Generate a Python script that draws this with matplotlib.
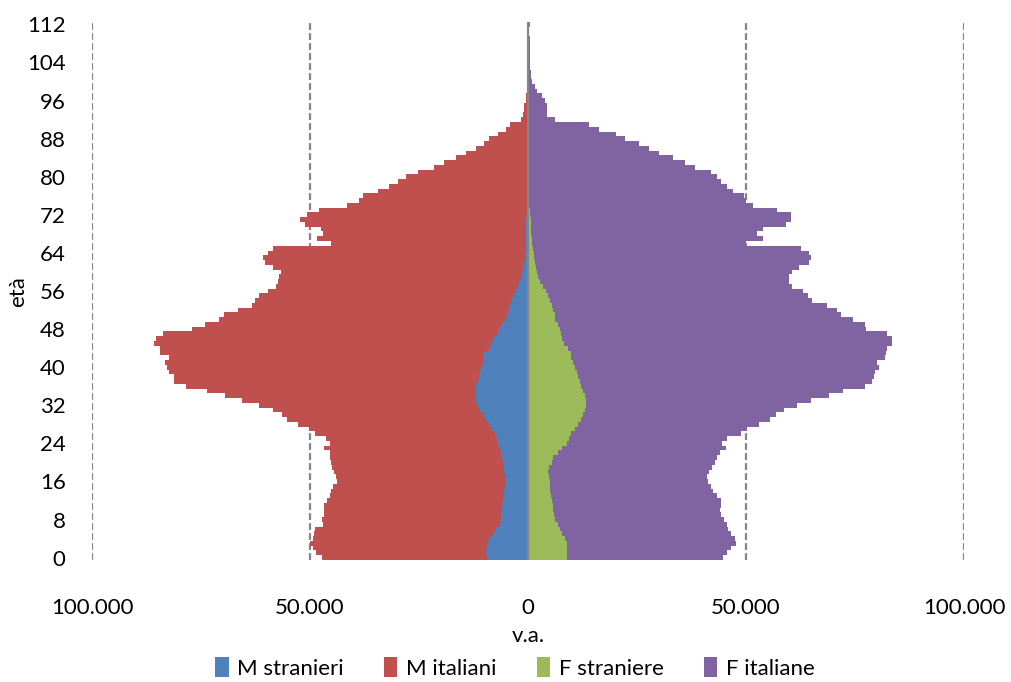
import numpy as np
import matplotlib.pyplot as plt
from matplotlib.ticker import FuncFormatter

plt.rcParams['font.family'] = ['Lato', 'DejaVu Sans']

# età 0..112, valori in migliaia
eta = np.arange(113)

m_stranieri = np.array([
    9.5, 9.7, 9.5, 9.1, 8.7, 8.1, 7.3, 6.5, 6.3, 6.2,
    5.9, 5.9, 5.7, 5.5, 5.4, 5.1, 5.1, 5.1, 5.4, 5.5,
    5.7, 5.9, 6.2, 6.5, 7.0, 7.1, 7.5, 8.3, 8.9, 9.7,
    10.3, 11.1, 11.5, 11.9, 12.0, 12.0, 11.9, 11.5, 11.2, 11.1,
    10.7, 10.4, 10.3, 10.1, 8.9, 8.3, 7.9, 7.1, 6.7, 6.3,
    5.1, 4.9, 4.4, 4.1, 3.6, 3.2, 2.8, 2.4, 1.8, 1.4,
    1.3, 1.0, 0.9, 0.8, 0.6, 0.5, 0.45, 0.4, 0.4, 0.35,
    0.35, 0.6, 0.25, 0.2, 0.2, 0.15, 0.15, 0.12, 0.1, 0.1,
    0.08, 0.06, 0.06, 0.06, 0.06, 0.06, 0.04, 0.04, 0.04, 0.04,
    0.04, 0.02, 0.02, 0.02, 0.02, 0.02, 0.02, 0.02, 0.02, 0.02,
    0, 0, 0, 0, 0, 0, 0, 0, 0, 0,
    0, 0, 0])

m_italiani = np.array([
    37.8, 39.0, 39.9, 40.9, 40.7, 41.0, 41.6, 40.6, 41.0, 40.5,
    40.9, 40.9, 40.3, 40.0, 39.7, 39.6, 38.6, 39.0, 39.1, 39.4,
    39.4, 39.6, 39.3, 40.3, 38.5, 39.2, 41.4, 41.9, 43.9, 45.5,
    46.1, 47.3, 50.2, 53.8, 57.5, 61.6, 66.6, 69.8, 69.9, 71.2,
    72.2, 72.8, 72.0, 74.2, 75.6, 77.5, 77.5, 76.6, 70.4, 67.7,
    65.7, 64.9, 62.2, 59.3, 59.1, 58.5, 56.9, 55.4, 55.6, 55.7,
    55.3, 57.4, 59.4, 60.0, 59.1, 57.9, 44.7, 47.9, 46.7, 47.2,
    50.7, 51.8, 50.4, 47.7, 41.2, 38.7, 37.6, 34.3, 31.7, 29.7,
    28.0, 25.2, 21.5, 19.1, 16.5, 14.1, 11.9, 10.1, 8.9, 6.9,
    5.1, 4.1, 1.6, 1.1, 1.0, 0.8, 0.5, 0.4, 0.3, 0.2,
    0.15, 0.1, 0.08, 0.06, 0.05, 0.04, 0.03, 0.02, 0.02, 0.01,
    0.01, 0.01, 0.01])

f_straniere = np.array([
    9.0, 9.0, 9.0, 8.9, 8.4, 7.9, 7.3, 6.9, 6.1, 6.0,
    5.8, 5.8, 5.4, 5.2, 5.0, 5.0, 5.0, 4.8, 4.6, 4.8,
    5.4, 5.8, 6.9, 7.9, 9.0, 9.4, 9.9, 10.7, 11.5, 12.2,
    12.5, 13.0, 13.2, 13.2, 13.0, 12.7, 12.2, 11.9, 11.5, 11.2,
    10.7, 10.4, 9.9, 9.8, 9.2, 8.3, 7.9, 7.6, 7.3, 6.9,
    6.3, 6.1, 5.8, 5.6, 5.0, 4.5, 4.1, 3.4, 2.8, 2.4,
    2.1, 1.9, 1.6, 1.4, 1.3, 1.2, 1.0, 0.9, 0.8, 0.7,
    0.6, 0.6, 0.5, 0.4, 0.3, 0.2, 0.2, 0.15, 0.15, 0.12,
    0.1, 0.08, 0.08, 0.08, 0.08, 0.08, 0.05, 0.05, 0.05, 0.05,
    0.05, 0.03, 0.03, 0.03, 0.03, 0.03, 0.03, 0.03, 0.03, 0.03,
    0, 0, 0, 0, 0, 0, 0, 0, 0, 0,
    0, 0, 0])

f_italiane = np.array([
    35.8, 36.7, 37.6, 38.7, 39.0, 38.6, 38.6, 38.7, 38.9, 38.3,
    38.2, 38.5, 38.9, 38.1, 37.5, 36.9, 36.3, 36.3, 36.9, 37.5,
    37.4, 37.6, 37.1, 37.4, 35.6, 36.3, 39.0, 39.6, 41.5, 43.3,
    44.3, 45.7, 48.6, 51.8, 56.0, 59.6, 65.2, 67.1, 67.9, 68.5,
    69.8, 69.7, 71.9, 72.2, 73.1, 75.3, 75.7, 74.8, 70.2, 70.3,
    68.3, 65.8, 65.1, 62.9, 60.2, 59.8, 59.0, 57.2, 57.1, 57.5,
    58.5, 60.3, 62.8, 63.4, 63.1, 61.5, 48.9, 53.0, 51.8, 53.2,
    58.5, 59.8, 59.9, 56.8, 51.4, 49.8, 49.3, 46.8, 45.5, 44.2,
    43.3, 41.8, 38.2, 35.9, 33.2, 29.9, 27.7, 25.5, 22.3, 20.2,
    16.2, 14.0, 6.2, 4.4, 4.4, 4.3, 3.9, 3.1, 2.1, 1.5,
    0.9, 0.7, 0.6, 0.55, 0.5, 0.45, 0.4, 0.4, 0.35, 0.35,
    0.3, 0.3, 0.5])

serie = ['M stranieri', 'M italiani', 'F straniere', 'F italiane']
colori = ['#4F81BD', '#C0504D', '#9BBB59', '#8064A2']

fig = plt.figure(figsize=(10.11, 6.82), dpi=100)
ax = fig.add_axes([92 / 1011, 1 - 560 / 682, 872 / 1011, 538 / 682])

k = 1000
b1 = ax.barh(eta, -m_stranieri * k, height=1.0, color=colori[0], zorder=2)
b2 = ax.barh(eta, -m_italiani * k, left=-m_stranieri * k, height=1.0, color=colori[1], zorder=2)
b3 = ax.barh(eta, f_straniere * k, height=1.0, color=colori[2], zorder=2)
b4 = ax.barh(eta, f_italiane * k, left=f_straniere * k, height=1.0, color=colori[3], zorder=2)

# griglia tratteggiata e asse centrale
for x in [-100000, -50000, 50000, 100000]:
    ax.axvline(x, color='#868686', lw=1.6, ls=(0, (3.1, 1.4)), zorder=0)
ax.axvline(0, color='#868686', lw=1.5, zorder=3)

ax.set_xlim(-100000, 100000)
ax.set_ylim(-0.5, 112.5)
ax.set_yticks(range(0, 113, 8))
ax.set_xticks([-100000, -50000, 0, 50000, 100000])
ax.xaxis.set_major_formatter(FuncFormatter(lambda v, p: f"{abs(int(v)):,}".replace(',', '.')))
ax.tick_params(axis='both', length=0, labelsize=16)
ax.tick_params(axis='y', pad=19)
ax.tick_params(axis='x', pad=27)
for s in ax.spines.values():
    s.set_visible(False)

fig.text(528 / 1011, 1 - 636 / 682, 'v.a.', ha='center', va='center', fontsize=16)
fig.text(18 / 1011, 1 - 292 / 682, 'età', ha='center', va='center', rotation=90, fontsize=16)

fig.legend([b1, b2, b3, b4], serie, loc='center', bbox_to_anchor=(515 / 1011, 1 - 668 / 682),
           ncol=4, frameon=False, fontsize=16, handlelength=0.6, handleheight=1.0,
           handletextpad=0.4, columnspacing=1.8)

fig.savefig('out.png', dpi=100)
